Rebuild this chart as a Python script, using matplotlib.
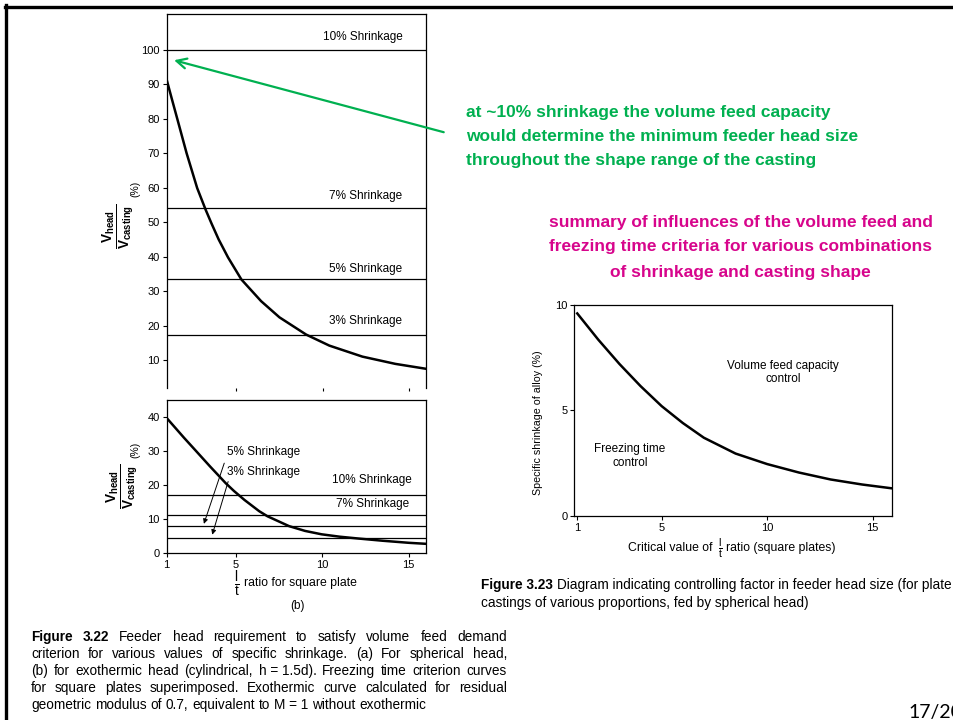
import matplotlib
matplotlib.use('Agg')
import matplotlib.pyplot as plt
from matplotlib.lines import Line2D

plt.rcParams['font.family'] = ['Liberation Sans', 'DejaVu Sans']
plt.rcParams['mathtext.fontset'] = 'custom'
plt.rcParams['mathtext.rm'] = 'Liberation Sans'
plt.rcParams['mathtext.it'] = 'Liberation Sans:italic'
plt.rcParams['mathtext.bf'] = 'Liberation Sans:bold'

# (a) spherical head curve
sph_x = [1.0, 1.3, 1.61, 2.15, 2.76, 3.25, 3.59, 4.0, 4.54, 5.31, 6.45, 7.51, 9.05, 10.39, 12.3, 14.2, 16.0]
sph_y = [91.3, 85.7, 80, 70, 59.9, 53.6, 49.6, 45.0, 39.8, 33.4, 27.1, 22.4, 17.4, 14.2, 11.0, 8.9, 7.45]
sph_levels = [100, 54, 33.4, 17.4]
sph_labels = ['10% Shrinkage', '7% Shrinkage', '5% Shrinkage', '3% Shrinkage']

# (b) exothermic head curve
exo_x = [1, 2, 2.68, 3.5, 4.42, 4.9, 5.5, 6.35, 6.83, 8.08, 9, 9.96, 11, 12.1, 13.5, 15, 16]
exo_y = [39.7, 33.9, 30.1, 25.5, 20.5, 18.2, 15.6, 12.3, 10.8, 7.9, 6.5, 5.5, 4.8, 4.25, 3.6, 3.0, 2.7]
exo_levels = [17.2, 11.2, 7.8, 4.4]

# fig 3.23 boundary curve
crit_x = [1, 2, 3, 4, 5, 6, 7, 8.5, 10, 11.5, 13, 14.5, 15.9]
crit_y = [9.6, 8.35, 7.2, 6.15, 5.2, 4.4, 3.7, 2.95, 2.45, 2.05, 1.72, 1.48, 1.3]

W, H = 954, 720
green = '#00B050'
magenta = '#D7058C'


def box(l, t, r, b):
    return [l / W, 1 - b / H, (r - l) / W, (b - t) / H]


def style(ax, fs=8):
    for s in ax.spines.values():
        s.set_linewidth(0.9)
    ax.tick_params(direction='out', length=3, width=0.8, labelsize=fs, pad=2)


frac_v = r'$\frac{\mathbf{V_{head}}}{\mathbf{V_{casting}}}$'
frac_lt = r'$\frac{\mathrm{l}}{\mathrm{t}}$'

fig = plt.figure(figsize=(W / 100, H / 100), dpi=100)

# ---- (a)
ax1 = fig.add_axes(box(166.7, 14, 426.5, 388))
ax1.plot(sph_x, sph_y, color='black', lw=1.8)
for lev in sph_levels:
    ax1.axhline(lev, color='black', lw=0.9)
ax1.set_xlim(1, 16)
ax1.set_ylim(1.9, 110.4)
ax1.set_yticks(range(10, 101, 10))
ax1.set_xticks([5, 10, 15])
style(ax1)
ax1.tick_params(axis='x', length=2, labelbottom=False)
ax1.spines['bottom'].set_visible(False)
label_y = [103.6, 57.5, 36.3, 21.4]
for txt, yy in zip(sph_labels, label_y):
    ax1.text(14.6, yy, txt, ha='right', va='center', fontsize=8.5)
ax1.set_ylabel(frac_v, fontsize=14)
ax1.yaxis.set_label_coords(-0.114, 0.433)
ax1.text(-0.122, 0.532, '(%)', transform=ax1.transAxes, rotation=90,
         ha='center', va='center', fontsize=7.5)

# ---- (b)
ax2 = fig.add_axes(box(166.7, 400, 426, 553))
ax2.plot(exo_x, exo_y, color='black', lw=1.8)
for lev in exo_levels:
    ax2.axhline(lev, color='black', lw=0.9)
ax2.set_xlim(1, 16)
ax2.set_ylim(0, 45)
ax2.set_yticks([0, 10, 20, 30, 40])
ax2.set_xticks([1, 5, 10, 15])
style(ax2)
ax2.text(4.5, 29.6, '5% Shrinkage', ha='left', va='center', fontsize=8.5)
ax2.text(4.5, 23.8, '3% Shrinkage', ha='left', va='center', fontsize=8.5)
ax2.text(15.2, 21.4, '10% Shrinkage', ha='right', va='center', fontsize=8.5)
ax2.text(15.03, 14.4, '7% Shrinkage', ha='right', va='center', fontsize=8.5)
ax2.annotate('', xy=(3.1, 7.8), xytext=(4.38, 27.2),
             arrowprops=dict(arrowstyle='-|>', lw=0.7, color='black', mutation_scale=7))
ax2.annotate('', xy=(3.59, 4.6), xytext=(4.6, 21.8),
             arrowprops=dict(arrowstyle='-|>', lw=0.7, color='black', mutation_scale=7))
ax2.set_ylabel(frac_v, fontsize=14)
ax2.yaxis.set_label_coords(-0.1, 0.438)
ax2.text(-0.122, 0.673, '(%)', transform=ax2.transAxes, rotation=90,
         ha='center', va='center', fontsize=7.5)
fig.text(237 / W, 1 - 584 / H, frac_lt, ha='center', va='center', fontsize=14)
fig.text(244 / W, 1 - 583 / H, 'ratio for square plate', ha='left', va='center', fontsize=8.8)
ax2.text(0.503, -0.346, '(b)', transform=ax2.transAxes, ha='center', va='center', fontsize=8.5)

# ---- fig 3.23
ax3 = fig.add_axes(box(574.3, 305, 891.7, 515.7))
ax3.plot(crit_x, crit_y, color='black', lw=1.8)
ax3.set_xlim(0.86, 15.9)
ax3.set_ylim(0, 10)
ax3.set_yticks([0, 5, 10])
ax3.set_xticks([1, 5, 10, 15])
style(ax3)
ax3.text(10.76, 6.8, 'Volume feed capacity\ncontrol', ha='center', va='center', fontsize=8.5)
ax3.text(3.5, 2.85, 'Freezing time\ncontrol', ha='center', va='center', fontsize=8.5)
ax3.set_ylabel('Specific shrinkage of alloy (%)', fontsize=7.7)
ax3.yaxis.set_label_coords(-0.099, 0.44)
fig.text(713 / W, 1 - 548 / H, 'Critical value of', ha='right', va='center', fontsize=8.8)
fig.text(720 / W, 1 - 549 / H, frac_lt, ha='center', va='center', fontsize=11)
fig.text(726 / W, 1 - 548 / H, 'ratio (square plates)', ha='left', va='center', fontsize=8.8)

# ---- annotations
ax1.annotate('', xy=(1.27, 97.2), xytext=(17.15, 75.9), annotation_clip=False,
             arrowprops=dict(arrowstyle='->', lw=1.6, color=green, mutation_scale=18))

green_lines = ['at ~10% shrinkage the volume feed capacity',
               'would determine the minimum feeder head size',
               'throughout the shape range of the casting']
for i, s in enumerate(green_lines):
    fig.text(466 / W, 1 - (112 + 24.5 * i) / H, s, color=green, fontsize=12.5,
             fontweight='bold', ha='left', va='center')

magenta_lines = ['summary of influences of the volume feed and',
                 'freezing time criteria for various combinations',
                 'of shrinkage and casting shape']
for i, s in enumerate(magenta_lines):
    fig.text(740.5 / W, 1 - (222 + 25 * i) / H, s, color=magenta, fontsize=12.5,
             fontweight='bold', ha='center', va='center')

# ---- captions
cap22 = ['Figure 3.22 Feeder head requirement to satisfy volume feed demand',
         'criterion for various values of specific shrinkage. (a) For spherical head,',
         '(b) for exothermic head (cylindrical, h\u00a0=\u00a01.5d). Freezing time criterion curves',
         'for square plates superimposed. Exothermic curve calculated for residual',
         'geometric modulus of 0.7, equivalent to M\u00a0=\u00a01 without exothermic']
cap_y = [641, 658, 675, 692, 709]
cap_fs = 9.8

renderer = fig.canvas.get_renderer()
x0, x1 = 31, 507
for i, (line, yy) in enumerate(zip(cap22, cap_y)):
    words = line.split(' ')
    texts = []
    for j, w in enumerate(words):
        bold = (i == 0 and j < 2)
        t = fig.text(0, 1 - yy / H, w.replace('\u00a0', ' '), fontsize=cap_fs,
                     fontweight='bold' if bold else 'normal', va='baseline', ha='left')
        texts.append(t)
    widths = [t.get_window_extent(renderer).width for t in texts]
    if i < len(cap22) - 1:
        gap = (x1 - x0 - sum(widths)) / (len(words) - 1)
    else:
        gap = 3.9
    pos = x0
    for t, w in zip(texts, widths):
        t.set_x(pos / W)
        pos += w + gap

t_fig = fig.text(481 / W, 1 - 589 / H, 'Figure 3.23', fontsize=cap_fs, fontweight='bold', va='baseline')
fw = t_fig.get_window_extent(renderer).width
fig.text((481 + fw + 4) / W, 1 - 589 / H,
         'Diagram indicating controlling factor in feeder head size (for plate',
         fontsize=cap_fs, va='baseline')
fig.text(481 / W, 1 - 607 / H, 'castings of various proportions, fed by spherical head)',
         fontsize=cap_fs, va='baseline')

fig.text(908 / W, 1 - 718 / H, '17/20', fontsize=14, family=['Lato', 'DejaVu Sans'], va='baseline')

# slide border
fig.add_artist(Line2D([5 / W, 1], [1 - 6.5 / H, 1 - 6.5 / H], color='black', lw=2.4))
fig.add_artist(Line2D([6.5 / W, 6.5 / W], [0, 1 - 5 / H], color='black', lw=2.4))

fig.savefig('out.png', dpi=100)
